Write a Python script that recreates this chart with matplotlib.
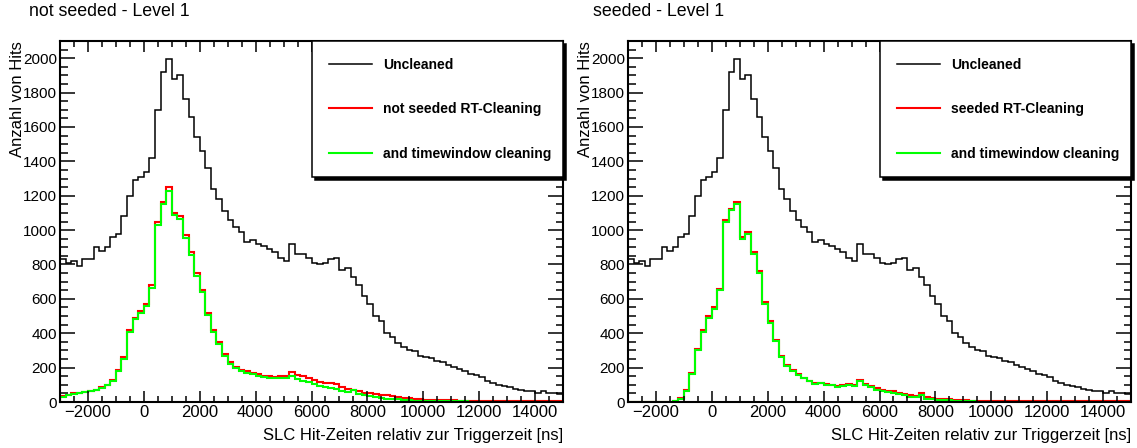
import numpy as np
import matplotlib.pyplot as plt
from matplotlib.ticker import MultipleLocator

plt.rcParams['font.family'] = ['Liberation Sans', 'DejaVu Sans']

# SLC hit times, 200 ns bins from -3000 ns to 15000 ns
bin_edges = np.arange(-3000, 15001, 200)

uncleaned = [
    830, 810, 820, 790, 830, 830, 900, 880, 900, 960,
    980, 1080, 1200, 1290, 1310, 1340, 1420, 1700, 1920, 1995,
    1880, 1900, 1760, 1660, 1540, 1460, 1360, 1240, 1180, 1110,
    1060, 1020, 990, 930, 940, 920, 905, 890, 870, 840,
    820, 920, 860, 860, 840, 810, 800, 810, 830, 840,
    770, 780, 730, 680, 615, 570, 500, 470, 400, 380,
    345, 320, 305, 295, 270, 260, 258, 240, 232, 215,
    205, 190, 180, 165, 155, 145, 125, 110, 100, 95,
    85, 78, 68, 65, 62, 55, 62, 55, 50, 45,
]

notseeded_rt = [
    35, 42, 50, 55, 60, 65, 72, 85, 100, 130,
    185, 260, 420, 490, 531, 570, 680, 1050, 1165, 1250,
    1100, 1080, 970, 870, 750, 650, 520, 420, 350, 280,
    230, 205, 185, 178, 168, 160, 152, 150, 148, 150,
    152, 172, 155, 150, 138, 128, 118, 113, 112, 104,
    90, 78, 70, 62, 55, 52, 46, 42, 40, 35,
    30, 26, 22, 18, 15, 13, 12, 11, 10, 9,
    9, 8, 8, 7, 7, 7, 6, 6, 6, 6,
    5, 5, 5, 5, 5, 5, 4, 4, 4, 4,
]

notseeded_tw = [
    30, 38, 46, 52, 57, 62, 70, 82, 97, 125,
    178, 250, 410, 480, 520, 560, 665, 1030, 1150, 1230,
    1085, 1065, 955, 855, 735, 640, 505, 405, 338, 268,
    222, 198, 178, 170, 160, 152, 145, 140, 138, 138,
    140, 150, 135, 125, 115, 103, 95, 88, 82, 75,
    62, 58, 70, 45, 38, 32, 28, 24, 20, 18,
    15, 12, 10, 8, 6, 5, 4, 4, 3, 3,
    3, 3, 3, 2, 2, 2, 2, 2, 2, 2,
    2, 2, 2, 2, 2, 2, 2, 2, 2, 2,
]

seeded_rt = [
    0, 0, 0, 0, 0, 0, 0, 0, 5, 22,
    70, 170, 310, 420, 500, 550, 660, 1060, 1125, 1165,
    960, 990, 870, 760, 580, 470, 360, 270, 215, 185,
    160, 142, 125, 108, 112, 105, 100, 95, 100, 102,
    100, 130, 102, 95, 80, 70, 65, 62, 55, 48,
    40, 36, 50, 28, 22, 20, 18, 16, 13, 11,
    9, 7, 6, 5, 5, 5, 4, 4, 4, 4,
    4, 4, 4, 3, 3, 3, 3, 3, 3, 3,
    3, 3, 3, 3, 3, 3, 3, 3, 3, 3,
]

seeded_tw = [
    0, 0, 0, 0, 0, 0, 0, 0, 4, 20,
    65, 160, 300, 410, 490, 540, 650, 1050, 1115, 1150,
    950, 980, 860, 750, 570, 460, 352, 262, 210, 180,
    156, 138, 120, 104, 108, 100, 96, 90, 95, 97,
    95, 125, 96, 88, 72, 62, 56, 52, 45, 38,
    30, 27, 40, 20, 15, 13, 11, 9, 7, 5,
    4, 3, 2, 2, 1, 1, 1, 1, 1, 1,
    1, 1, 1, 1, 1, 1, 1, 1, 1, 1,
    1, 1, 1, 1, 1, 1, 1, 1, 1, 1,
]

W, H = 1137, 448
fig = plt.figure(figsize=(W / 100, H / 100), dpi=100)


def draw_panel(left_px, title_px, title, rt_label, rt_counts, tw_counts):
    ax = fig.add_axes([left_px / W, 46 / H, 503 / W, 361 / H])
    ax.stairs(uncleaned, bin_edges, color='black', lw=1.1, label='Uncleaned')
    ax.stairs(rt_counts, bin_edges, color='#ff0000', lw=1.5, label=rt_label)
    ax.stairs(tw_counts, bin_edges, color='#00ff00', lw=1.5,
              label='and timewindow cleaning')
    ax.set_xlim(-3000, 15000)
    ax.set_ylim(0, 2100)

    ax.xaxis.set_major_locator(MultipleLocator(2000))
    ax.xaxis.set_minor_locator(MultipleLocator(500))
    ax.yaxis.set_major_locator(MultipleLocator(200))
    ax.yaxis.set_minor_locator(MultipleLocator(50))
    ax.tick_params(which='both', direction='in', top=True, right=True,
                   width=1.1, pad=2)
    ax.tick_params(axis='y', which='major', length=10.8, labelsize=11)
    ax.tick_params(axis='y', which='minor', length=5.4)
    ax.tick_params(axis='x', which='major', length=7.9, labelsize=12)
    ax.tick_params(axis='x', which='minor', length=4)
    for sp in ax.spines.values():
        sp.set_linewidth(1.5)

    ax.text(1.0, -0.092, 'SLC Hit-Zeiten relativ zur Triggerzeit [ns]',
            transform=ax.transAxes, ha='right', va='center', fontsize=12)
    ax.text(-0.0835, 1.0, 'Anzahl von Hits', rotation=90,
            transform=ax.transAxes, ha='center', va='top', fontsize=12)
    fig.text(title_px / W, 1 - 11 / H, title, ha='left', va='center',
             fontsize=12.8)

    leg = ax.legend(loc='upper left', bbox_to_anchor=(0.501, 0.634, 0.499, 0.366),
                    mode='expand', borderaxespad=0, borderpad=1.2,
                    labelspacing=2.2, handlelength=3.1, handletextpad=0.8,
                    prop={'weight': 'bold', 'size': 10}, fancybox=False,
                    framealpha=1, edgecolor='black',
                    shadow={'color': 'black', 'alpha': 1})
    leg.get_frame().set_linewidth(1.1)
    return ax


draw_panel(60, 29, 'not seeded - Level 1', 'not seeded RT-Cleaning',
           notseeded_rt, notseeded_tw)
draw_panel(628, 593, 'seeded - Level 1', 'seeded RT-Cleaning',
           seeded_rt, seeded_tw)

fig.savefig('out.png', dpi=100)
